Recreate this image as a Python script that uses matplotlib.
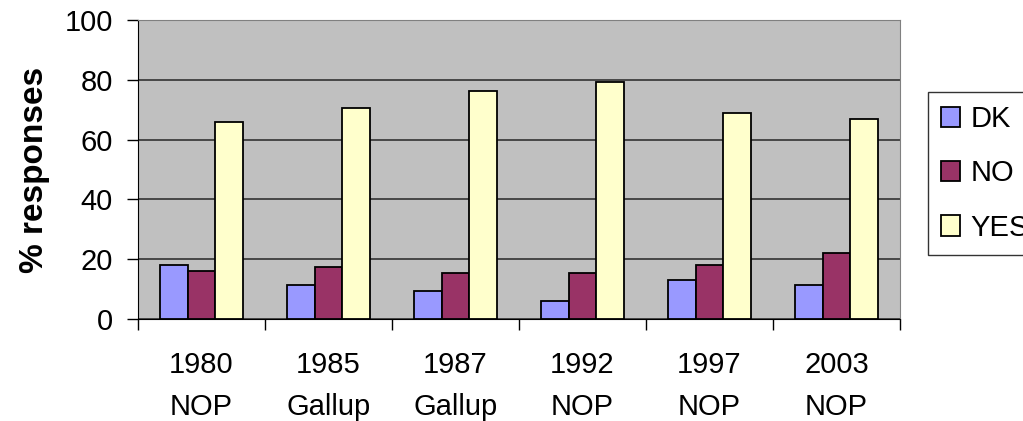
import matplotlib.pyplot as plt
import numpy as np

plt.rcParams['font.family'] = ['Liberation Sans', 'DejaVu Sans']

# dados
categories = ['1980\nNOP', '1985\nGallup', '1987\nGallup', '1992\nNOP', '1997\nNOP', '2003\nNOP']
dk = [18, 11.5, 9.5, 6, 13, 11.5]
no = [16.2, 17.3, 15.3, 15.3, 18, 22]
yes = [66, 70.5, 76.2, 79.2, 68.8, 66.8]

fig = plt.figure(figsize=(10.23, 4.21), dpi=100)
ax = fig.add_axes([138 / 1023, 1 - 319 / 421, 762 / 1023, 299 / 421])
ax.set_facecolor('#C0C0C0')

x = np.arange(len(categories)) + 0.5
w = 0.216
series = [('DK', dk, '#9999FF'), ('NO', no, '#993366'), ('YES', yes, '#FFFFCC')]
for i, (name, vals, col) in enumerate(series):
    ax.bar(x + (i - 1) * w, vals, width=w, color=col, edgecolor='black',
           linewidth=1.3, label=name, zorder=3)

ax.set_xlim(0, len(categories))
ax.set_ylim(0, 100)
ax.set_yticks(range(0, 101, 20))
ax.yaxis.grid(True, color='#333333', linewidth=1.2, zorder=0)
ax.tick_params(axis='y', labelsize=21, direction='out', length=8, width=1, pad=10)

ax.set_xticks(x)
ax.set_xticklabels(categories, fontsize=21, linespacing=1.62)
ax.tick_params(axis='x', which='major', length=0, pad=23)
ax.set_xticks(np.arange(len(categories) + 1), minor=True)
ax.tick_params(axis='x', which='minor', direction='out', length=8, width=1)

for s in ['left', 'bottom']:
    ax.spines[s].set_color('black')
for s in ['top', 'right']:
    ax.spines[s].set_color('#808080')

ax.set_ylabel('% responses', fontsize=24, fontweight='bold')
ax.yaxis.set_label_coords(-88 / 762, 0.5)

# legenda cortada na borda direita, como no original
leg = fig.legend(loc='upper left', bbox_to_anchor=(928 / 1023, 1 - 92 / 421),
                 fontsize=21, frameon=True, fancybox=False, edgecolor='black',
                 handlelength=0.65, handleheight=0.7, handletextpad=0.35,
                 labelspacing=0.9, borderpad=0.45, borderaxespad=0)
leg.get_frame().set_linewidth(1)

fig.savefig('out.png', dpi=100)
